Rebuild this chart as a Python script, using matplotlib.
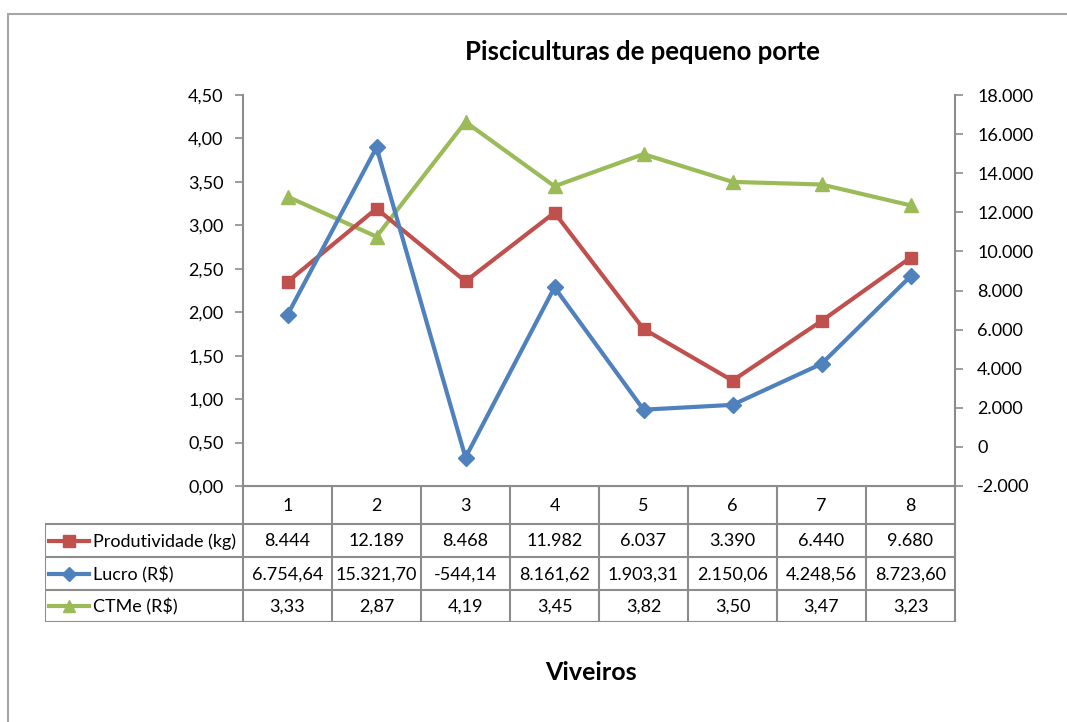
import matplotlib
matplotlib.use("Agg")
import matplotlib.pyplot as plt
from matplotlib.patches import Rectangle
from matplotlib.lines import Line2D
from matplotlib.ticker import FuncFormatter, MultipleLocator

# ---- data -------------------------------------------------------------
viveiros = ["1", "2", "3", "4", "5", "6", "7", "8"]
produtividade = [8444, 12189, 8468, 11982, 6037, 3390, 6440, 9680]
lucro = [6754.64, 15321.70, -544.14, 8161.62, 1903.31, 2150.06, 4248.56, 8723.60]
ctme = [3.33, 2.87, 4.19, 3.45, 3.82, 3.50, 3.47, 3.23]

series_names = ["Produtividade (kg)", "Lucro (R$)", "CTMe (R$)"]
title = "Pisciculturas de pequeno porte"
xlabel = "Viveiros"

RED, BLUE, GREEN = "#C0504D", "#4F81BD", "#9BBB59"
GRID = "#8C8C8C"
FONT = "Lato"
FS = 13

plt.rcParams["font.family"] = [FONT, "DejaVu Sans"]


def br(v, dec):
    s = f"{v:,.{dec}f}"
    return s.replace(",", "X").replace(".", ",").replace("X", ".")


W, H = 1067, 722
fig = plt.figure(figsize=(W / 100, H / 100), dpi=100)


def px_box(x0, y0, x1, y1):
    return [x0 / W, 1 - y1 / H, (x1 - x0) / W, (y1 - y0) / H]


# outer chart frame (continues past the right and bottom edges)
fig.patches.append(Rectangle((8 / W, -0.2), 1.5, 1.2 - 14 / H,
                             transform=fig.transFigure, fill=False,
                             edgecolor="#A6A6A6", linewidth=1.5))

PL, PR, PT, PB = 243, 955, 95, 486
x = list(range(1, len(viveiros) + 1))

ax = fig.add_axes(px_box(PL, PT, PR, PB))
ax.set_xlim(0.5, len(viveiros) + 0.5)
ax.set_ylim(0, 4.5)
ax.yaxis.set_major_locator(MultipleLocator(0.5))
ax.yaxis.set_major_formatter(FuncFormatter(lambda v, p: br(v, 2)))
ax.set_xticks([])
for s in ["top", "right"]:
    ax.spines[s].set_visible(False)
for s in ["left", "bottom"]:
    ax.spines[s].set_color(GRID)
    ax.spines[s].set_linewidth(1.5)
ax.tick_params(axis="y", direction="out", length=6, width=1.2, color=GRID,
               labelsize=FS, pad=8, labelcolor="black")
ax.plot(x, ctme, color=GREEN, lw=3, marker="^", ms=10, zorder=3)
ax.patch.set_alpha(0)

ax2 = ax.twinx()
ax2.set_ylim(-2000, 18000)
ax2.yaxis.set_major_locator(MultipleLocator(2000))
ax2.yaxis.set_major_formatter(FuncFormatter(lambda v, p: br(v, 0)))
for s in ["top", "left", "bottom"]:
    ax2.spines[s].set_visible(False)
ax2.spines["right"].set_color(GRID)
ax2.spines["right"].set_linewidth(1.5)
ax2.tick_params(axis="y", direction="out", length=6, width=1.2, color=GRID,
                labelsize=FS, pad=10, labelcolor="black")
ax2.plot(x, produtividade, color=RED, lw=3, marker="s", ms=9, zorder=3)
ax2.plot(x, lucro, color=BLUE, lw=3, marker="D", ms=8, zorder=4)

# ---- data table -------------------------------------------------------
TL, TB = 45, 622
row_edges = [486, 524, 557, 590, 622]
cell_w = (PR - PL) / len(viveiros)
lab_w = (PL - TL) / cell_w
tab = fig.add_axes(px_box(TL, PB, PR + 2, TB))
tab.set_xlim(0.5 - lab_w, len(viveiros) + 0.5 + 2 / cell_w)
tab.set_ylim(TB, PB)
tab.axis("off")
lk = dict(color=GRID, lw=1.5, solid_capstyle="projecting")

# horizontal rules
tab.plot([0.5, len(viveiros) + 0.5], [row_edges[0]] * 2, **lk)
for y in row_edges[1:]:
    tab.plot([0.5 - lab_w, len(viveiros) + 0.5], [y, y], **lk)
# vertical rules
for i in range(len(viveiros) + 1):
    tab.plot([0.5 + i] * 2, [row_edges[0], TB], **lk)
tab.plot([0.5 - lab_w] * 2, [row_edges[1], TB], **lk)

for i, lab in enumerate(viveiros):
    tab.text(x[i], (row_edges[0] + row_edges[1]) / 2 + 1, lab,
             ha="center", va="center", fontsize=FS)

rows = [
    ([br(v, 0) for v in produtividade], RED, "s", 8),
    ([br(v, 2) for v in lucro], BLUE, "D", 7),
    ([br(v, 2) for v in ctme], GREEN, "^", 9),
]
for r, (labels, col, mk, ms) in enumerate(rows):
    yc = (row_edges[r + 1] + row_edges[r + 2]) / 2
    x0 = 0.5 - lab_w
    tab.add_line(Line2D([x0 + 4 / cell_w, x0 + 44 / cell_w], [yc, yc],
                        color=col, lw=3))
    tab.plot([x0 + 24 / cell_w], [yc], marker=mk, color=col, ms=ms)
    tab.text(x0 + 48 / cell_w, yc + 1, series_names[r], ha="left",
             va="center", fontsize=FS)
    for i, t in enumerate(labels):
        txt = tab.text(x[i], yc + 1, t, ha="center", va="center", fontsize=FS)
        clip = Rectangle((x[i] - 0.5 + 2 / cell_w, row_edges[r + 1]),
                         1 - 4 / cell_w, row_edges[r + 2] - row_edges[r + 1],
                         transform=tab.transData, visible=False)
        tab.add_patch(clip)
        txt.set_clip_path(clip)

fig.text(642 / W, 1 - 52 / H, title, ha="center", va="center",
         fontsize=18.5, fontweight="bold")
fig.text(591 / W, 1 - 673 / H, xlabel, ha="center", va="center",
         fontsize=18, fontweight="bold")

fig.savefig("out.png", dpi=100)
